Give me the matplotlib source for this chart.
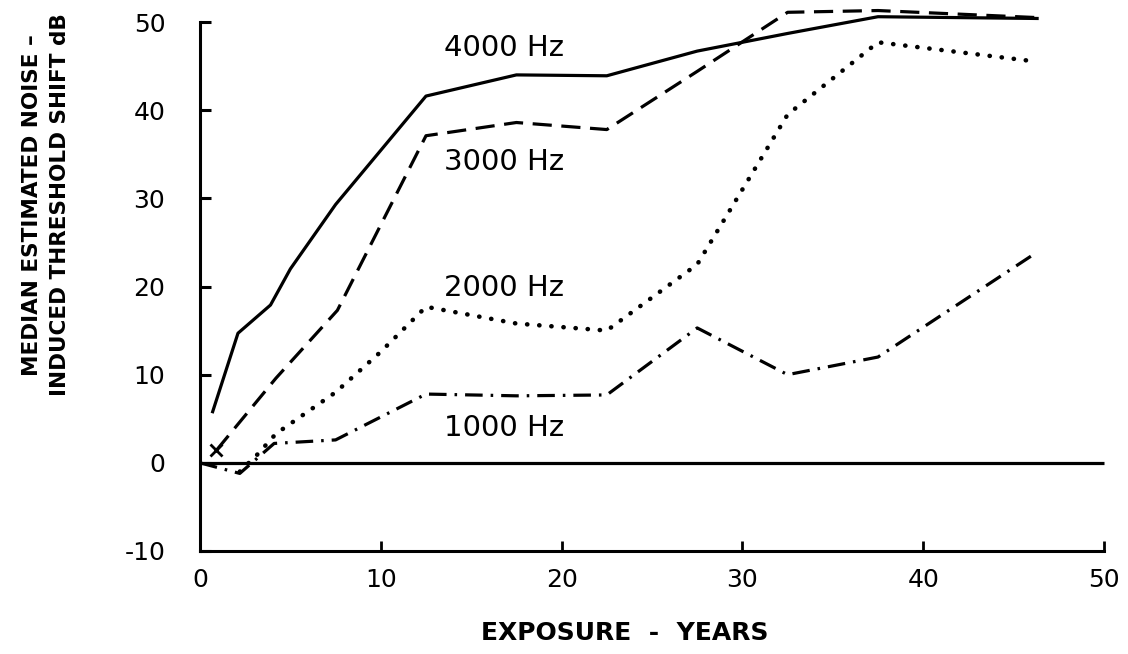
import matplotlib
matplotlib.use("Agg")
import matplotlib.pyplot as plt

plt.rcParams["font.family"] = ["DejaVu Sans"]
plt.rcParams["axes.unicode_minus"] = False

# Median estimated noise-induced threshold shift (dB) against years of exposure
years_4000 = [0.7, 2.1, 3.9, 5.0, 7.5, 12.5, 17.5, 22.5, 27.5, 32.5, 37.5, 46.3]
shift_4000 = [5.8, 14.7, 17.9, 22.0, 29.3, 41.6, 44.0, 43.9, 46.7, 48.7, 50.6, 50.4]

years_3000 = [0.9, 4.2, 7.6, 12.5, 17.5, 22.5, 27.5, 32.5, 37.5, 46.3]
shift_3000 = [1.4, 9.6, 17.3, 37.1, 38.6, 37.8, 44.4, 51.1, 51.3, 50.5]

years_2000 = [2.2, 3.2, 4.2, 7.5, 10.0, 12.5, 17.5, 22.5, 27.5, 32.5, 37.5, 46.3]
shift_2000 = [-1.0, 1.0, 3.3, 8.0, 12.6, 17.7, 15.8, 15.0, 22.5, 39.5, 47.7, 45.5]

years_1000 = [0.0, 2.2, 4.1, 7.5, 12.5, 17.5, 22.5, 27.5, 32.5, 37.5, 46.3]
shift_1000 = [0.0, -1.2, 2.2, 2.6, 7.8, 7.6, 7.7, 15.3, 10.0, 12.0, 23.9]

baseline_years = [0, 50]
baseline_shift = [0, 0]

curve_labels = ["4000 Hz", "3000 Hz", "2000 Hz", "1000 Hz"]
label_pos = [(13.5, 47.0), (13.5, 34.1), (13.5, 19.8), (13.5, 4.0)]

x_ticks = [0, 10, 20, 30, 40, 50]
y_ticks = [-10, 0, 10, 20, 30, 40, 50]

W, H = 1128, 654
fig = plt.figure(figsize=(W / 100, H / 100), dpi=100)
ax = fig.add_axes([200 / W, (H - 551) / H, (1104 - 200) / W, (551 - 22) / H])

lw = 2.3
ax.plot(baseline_years, baseline_shift, color="black", lw=lw, solid_capstyle="butt", clip_on=False)
ax.plot(years_4000, shift_4000, color="black", lw=lw, solid_joinstyle="round", clip_on=False)
ax.plot(years_3000, shift_3000, color="black", lw=lw, linestyle=(0, (6, 3)), clip_on=False)
ax.plot(years_3000[:1], shift_3000[:1], marker="x", color="black", ms=8, mew=2, clip_on=False)
ax.plot(years_2000, shift_2000, color="black", lw=3.3, linestyle=(0, (0.05, 2.6)),
        dash_capstyle="round", clip_on=False)
ax.plot(years_1000, shift_1000, color="black", lw=lw, linestyle=(0, (5.5, 2.5, 0.8, 2.5)),
        clip_on=False)

for text, (x, y) in zip(curve_labels, label_pos):
    ax.text(x, y, text, fontsize=21, ha="left", va="center")

ax.set_xlim(0, 50)
ax.set_ylim(-10, 50)
ax.set_xticks(x_ticks)
ax.set_yticks(y_ticks)
ax.set_xticklabels([str(v) for v in x_ticks], fontsize=18)
ax.set_yticklabels([str(v) for v in y_ticks], fontsize=18)

for side in ("top", "right"):
    ax.spines[side].set_visible(False)
for side in ("left", "bottom"):
    ax.spines[side].set_linewidth(2.2)

ax.tick_params(axis="y", direction="in", length=8, width=2.2, pad=25)
ax.tick_params(axis="x", direction="in", length=7, width=2.0, pad=12)

fig.text(46 / W, 1 - 205 / H, "MEDIAN ESTIMATED NOISE \u2013\nINDUCED THRESHOLD SHIFT dB",
         rotation=90, ha="center", va="center", fontsize=15.5, fontweight="bold",
         multialignment="center", linespacing=1.45)
fig.text(625 / W, 1 - 633 / H, "EXPOSURE  -  YEARS", ha="center", va="center",
         fontsize=18, fontweight="bold")

fig.savefig("out.png", dpi=100, facecolor="white")
